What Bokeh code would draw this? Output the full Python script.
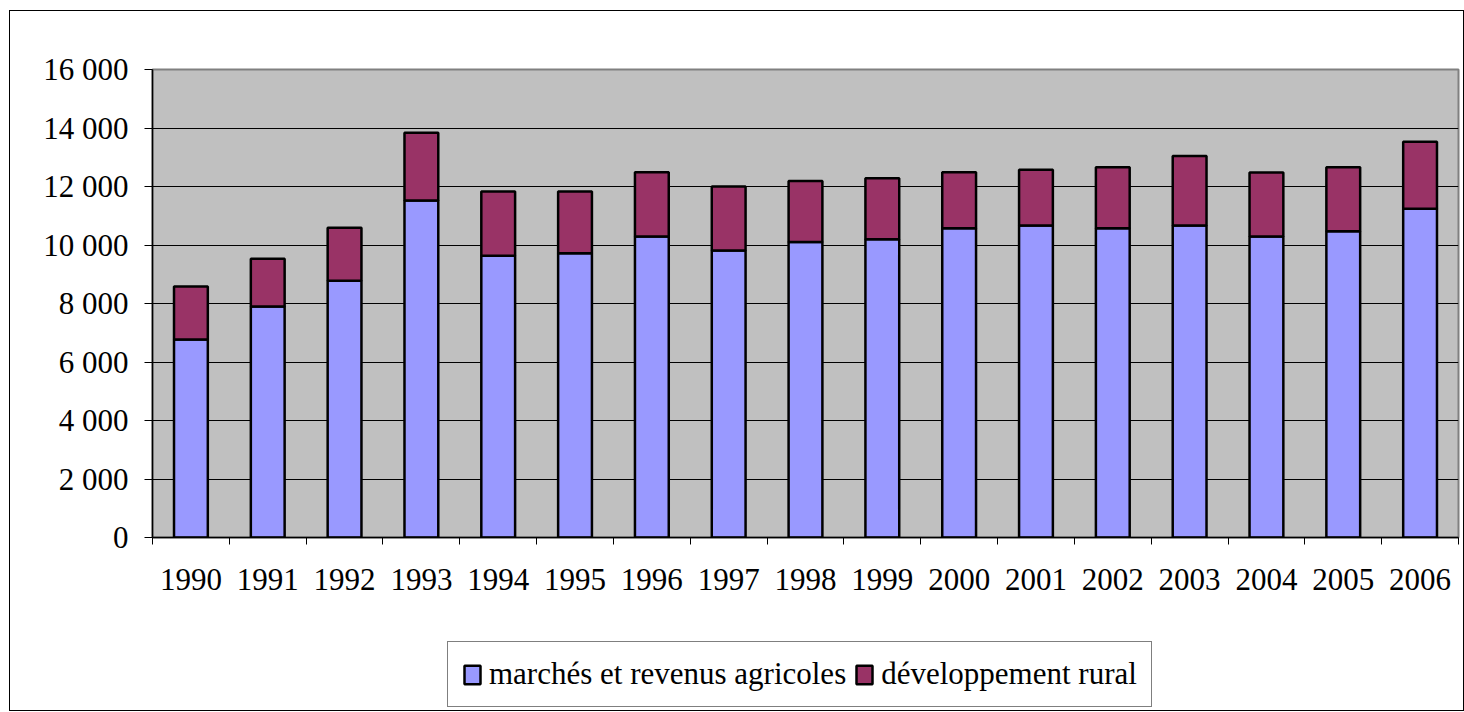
from bokeh.plotting import figure
from bokeh.layouts import column
from bokeh.models import ColumnDataSource, FixedTicker, Legend, LegendItem, Range1d
from bokeh.embed import file_html
from bokeh.resources import INLINE

years = ["1990", "1991", "1992", "1993", "1994", "1995", "1996", "1997", "1998",
         "1999", "2000", "2001", "2002", "2003", "2004", "2005", "2006"]
marches = [6770, 7900, 8780, 11520, 9630, 9720, 10290, 9810, 10100,
           10200, 10570, 10670, 10570, 10670, 10290, 10470, 11240]
developpement = [1810, 1630, 1810, 2320, 2200, 2110, 2200, 2190, 2090,
                 2080, 1920, 1900, 2090, 2370, 2190, 2190, 2290]
series_names = ["marchés et revenus agricoles", "développement rural"]
series_colors = ["#9999FF", "#993366"]
y_ticks = [0, 2000, 4000, 6000, 8000, 10000, 12000, 14000, 16000]
y_tick_labels = ["0", "2 000", "4 000", "6 000", "8 000", "10 000", "12 000", "14 000", "16 000"]

xs = [i + 0.5 for i in range(len(years))]
source = ColumnDataSource(dict(x=xs, m=marches, d=developpement))

FONT = "Liberation Serif"

p = figure(width=1453, height=603, output_backend="svg", toolbar_location=None,
           x_range=Range1d(0, len(years)), y_range=Range1d(0, 16000),
           min_border_left=142, min_border_right=5, min_border_top=58,
           min_border_bottom=77)
p.background_fill_color = "#C0C0C0"
p.border_fill_color = "white"
p.outline_line_color = "#808080"
p.outline_line_width = 2

rs = p.vbar_stack(["m", "d"], x="x", width=0.44, source=source,
                  color=series_colors, line_color="black", line_width=2.5)

# x axis
p.xaxis.ticker = FixedTicker(ticks=xs, minor_ticks=list(range(len(years) + 1)))
p.xaxis.major_label_overrides = {x: y for x, y in zip(xs, years)}
p.xaxis.major_tick_line_color = None
p.xaxis.major_tick_out = 0
p.xaxis.major_tick_in = 0
p.xaxis.minor_tick_line_color = "black"
p.xaxis.minor_tick_out = 7
p.xaxis.minor_tick_in = 0
p.xaxis.axis_line_color = "black"
p.xaxis.axis_line_width = 1.5
p.xaxis.major_label_text_font = FONT
p.xaxis.major_label_text_font_size = "31px"
p.xaxis.major_label_text_color = "black"
p.xaxis.major_label_standoff = 24

# y axis
p.yaxis.ticker = FixedTicker(ticks=y_ticks)
p.yaxis.major_label_overrides = {t: l for t, l in zip(y_ticks, y_tick_labels)}
p.yaxis.major_tick_line_color = "black"
p.yaxis.major_tick_out = 8
p.yaxis.major_tick_in = 0
p.yaxis.minor_tick_line_color = None
p.yaxis.axis_line_color = "black"
p.yaxis.axis_line_width = 1.5
p.yaxis.major_label_text_font = FONT
p.yaxis.major_label_text_font_size = "31px"
p.yaxis.major_label_text_color = "black"
p.yaxis.major_label_standoff = 16

p.xgrid.grid_line_color = None
p.ygrid.grid_line_color = "black"
p.ygrid.grid_line_width = 1

# legend strip (separate figure holding the legend below the chart)
p2 = figure(width=1453, height=96, output_backend="svg", toolbar_location=None,
            x_range=Range1d(-20, -19), y_range=Range1d(0, 1), min_border=0)
p2.axis.visible = False
p2.grid.grid_line_color = None
p2.outline_line_color = None
p2.background_fill_color = "white"
p2.border_fill_color = "white"
rs2 = p2.vbar_stack(["m", "d"], x="x", width=0.44, source=source,
                    color=series_colors, line_color="black", line_width=2.5)
for r in rs2:
    r.visible = False

legend = Legend(items=[LegendItem(label=series_names[0], renderers=[rs2[0]]),
                       LegendItem(label=series_names[1], renderers=[rs2[1]])],
                orientation="horizontal", location=(295, 3))
legend.label_text_font = "'Liberation Serif', 'Times New Roman', serif"
legend.label_text_font_style = "normal"
legend.label_text_font_size = "31px"
legend.label_text_color = "black"
legend.glyph_width = 20
legend.glyph_height = 23
legend.label_standoff = 7
legend.spacing = 8
legend.padding = 14
legend.margin = 0
legend.border_line_color = "black"
legend.border_line_width = 1
legend.background_fill_color = "white"
legend.background_fill_alpha = 1
legend.inactive_fill_alpha = 0
p2.add_layout(legend, "center")

layout = column(p, p2, spacing=0, margin=(10, 0, 0, 9))
layout.styles = {"border": "1px solid black"}

open("out.html", "w").write(file_html(layout, INLINE))
